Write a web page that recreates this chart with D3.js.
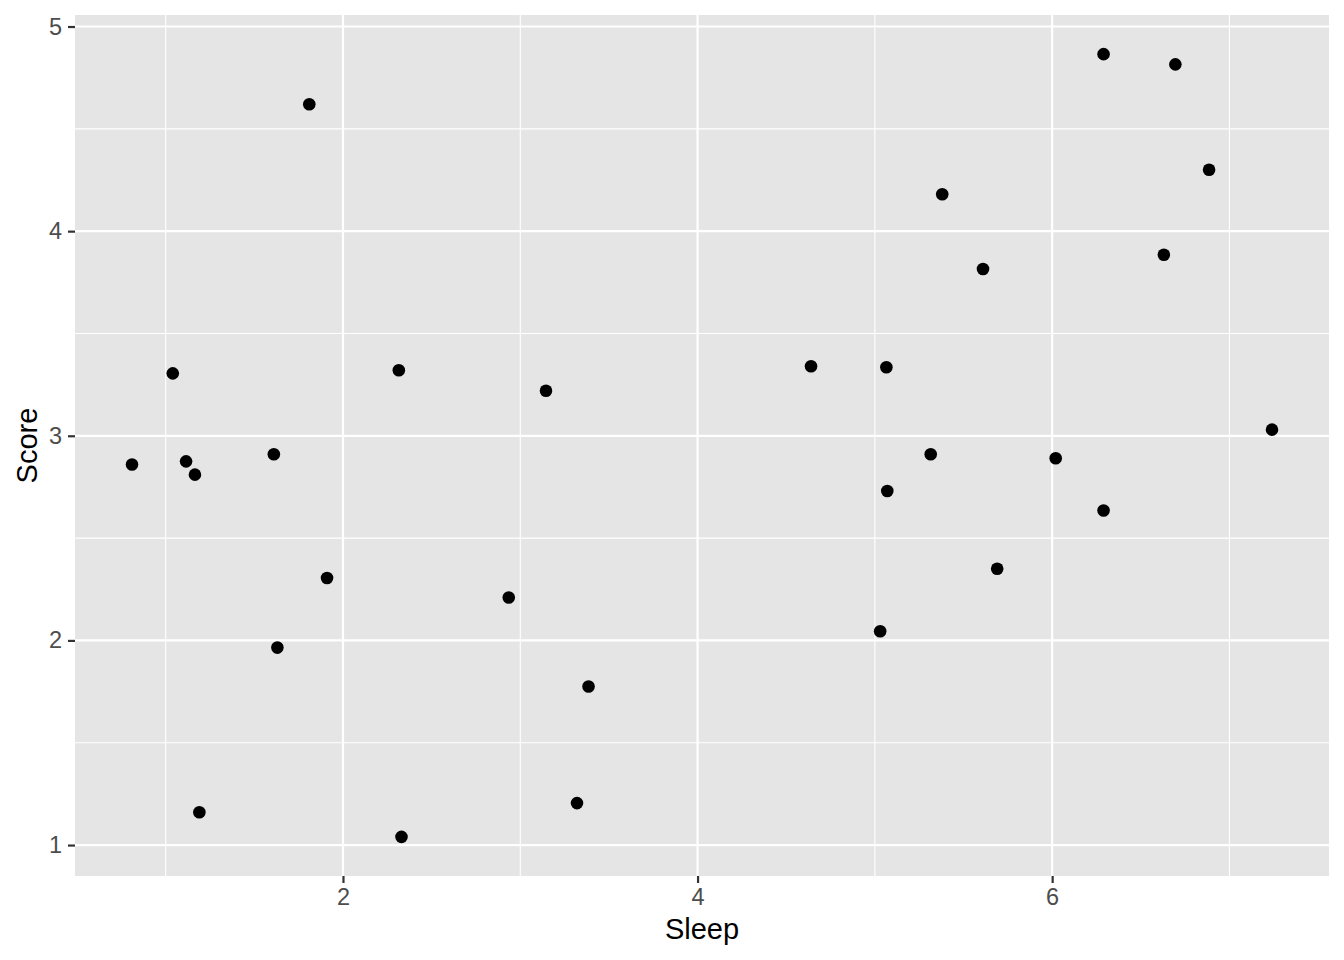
<!DOCTYPE html>
<html>
<head>
    <title>Sleep vs Score</title>
    <script src="https://d3js.org/d3.v7.min.js"></script>
    <style>
        body { margin: 0; background: #fff; }
        text { font-family: "Liberation Sans", Arial, sans-serif; }
    </style>
</head>
<body>
<script>
var w = 1344, h = 960;

// data
var sleep = [0.81, 1.04, 1.115, 1.165, 1.19, 1.61, 1.63, 1.81, 1.91, 2.315,
             2.33, 2.935, 3.145, 3.32, 3.385, 4.64, 5.03, 5.065, 5.07, 5.315,
             5.38, 5.61, 5.69, 6.02, 6.29, 6.29, 6.63, 6.695, 6.885, 7.24];
var score = [2.86, 3.305, 2.875, 2.81, 1.16, 2.91, 1.965, 4.62, 2.305, 3.32,
             1.04, 2.21, 3.22, 1.205, 1.775, 3.34, 2.045, 3.335, 2.73, 2.91,
             4.18, 3.815, 2.35, 2.89, 4.865, 2.635, 3.885, 4.815, 4.3, 3.03];
var xTicks = [2, 4, 6];
var xMinor = [1, 3, 5, 7];
var yTicks = [1, 2, 3, 4, 5];
var yMinor = [1.5, 2.5, 3.5, 4.5];

var points = sleep.map(function(d, i) { return { sleep: d, score: score[i] }; });

// panel area
var pLeft = 75, pRight = 1329, pTop = 15, pBottom = 876;

// ggplot style 5% expansion
function expand(ext) {
    var pad = (ext[1] - ext[0]) * 0.05;
    return [ext[0] - pad, ext[1] + pad];
}
var x = d3.scaleLinear().domain(expand(d3.extent(sleep))).range([pLeft, pRight]);
var y = d3.scaleLinear().domain(expand(d3.extent(score))).range([pBottom, pTop]);

var svg = d3.select("body").append("svg")
    .attr("width", w)
    .attr("height", h);

// background panel
svg.append("rect")
    .attr("x", pLeft).attr("y", pTop)
    .attr("width", pRight - pLeft).attr("height", pBottom - pTop)
    .attr("fill", "#E5E5E5");

// minor grid
svg.selectAll("line.xminor").data(xMinor).enter().append("line")
    .attr("x1", function(d) { return x(d); }).attr("x2", function(d) { return x(d); })
    .attr("y1", pTop).attr("y2", pBottom)
    .attr("stroke", "#fff").attr("stroke-width", 1.1);
svg.selectAll("line.yminor").data(yMinor).enter().append("line")
    .attr("y1", function(d) { return y(d); }).attr("y2", function(d) { return y(d); })
    .attr("x1", pLeft).attr("x2", pRight)
    .attr("stroke", "#fff").attr("stroke-width", 1.1);

// major grid
svg.selectAll("line.xmajor").data(xTicks).enter().append("line")
    .attr("x1", function(d) { return x(d); }).attr("x2", function(d) { return x(d); })
    .attr("y1", pTop).attr("y2", pBottom)
    .attr("stroke", "#fff").attr("stroke-width", 2.2);
svg.selectAll("line.ymajor").data(yTicks).enter().append("line")
    .attr("y1", function(d) { return y(d); }).attr("y2", function(d) { return y(d); })
    .attr("x1", pLeft).attr("x2", pRight)
    .attr("stroke", "#fff").attr("stroke-width", 2.2);

// points
svg.selectAll("circle").data(points).enter().append("circle")
    .attr("cx", function(d) { return x(d.sleep); })
    .attr("cy", function(d) { return y(d.score); })
    .attr("r", 6.3)
    .attr("fill", "#000");

// axes
var xAxis = svg.append("g")
    .attr("transform", "translate(0," + pBottom + ")")
    .call(d3.axisBottom(x).tickValues(xTicks).tickSize(7).tickPadding(5).tickFormat(d3.format("d")));
var yAxis = svg.append("g")
    .attr("transform", "translate(" + pLeft + ",0)")
    .call(d3.axisLeft(y).tickValues(yTicks).tickSize(7).tickPadding(6).tickFormat(d3.format("d")));

[xAxis, yAxis].forEach(function(g) {
    g.attr("font-size", null).attr("font-family", null);
    g.select(".domain").remove();
    g.selectAll(".tick line").attr("stroke", "#333").attr("stroke-width", 2.2);
    g.selectAll(".tick text")
        .attr("fill", "#4D4D4D")
        .style("font-size", "23.5px");
});

// axis titles
svg.append("text")
    .attr("x", (pLeft + pRight) / 2)
    .attr("y", 939)
    .attr("text-anchor", "middle")
    .style("font-size", "29px")
    .attr("fill", "#000")
    .text("Sleep");

svg.append("text")
    .attr("transform", "translate(36.5," + ((pTop + pBottom) / 2) + ") rotate(-90)")
    .attr("text-anchor", "middle")
    .style("font-size", "29px")
    .attr("fill", "#000")
    .text("Score");
</script>
</body>
</html>
